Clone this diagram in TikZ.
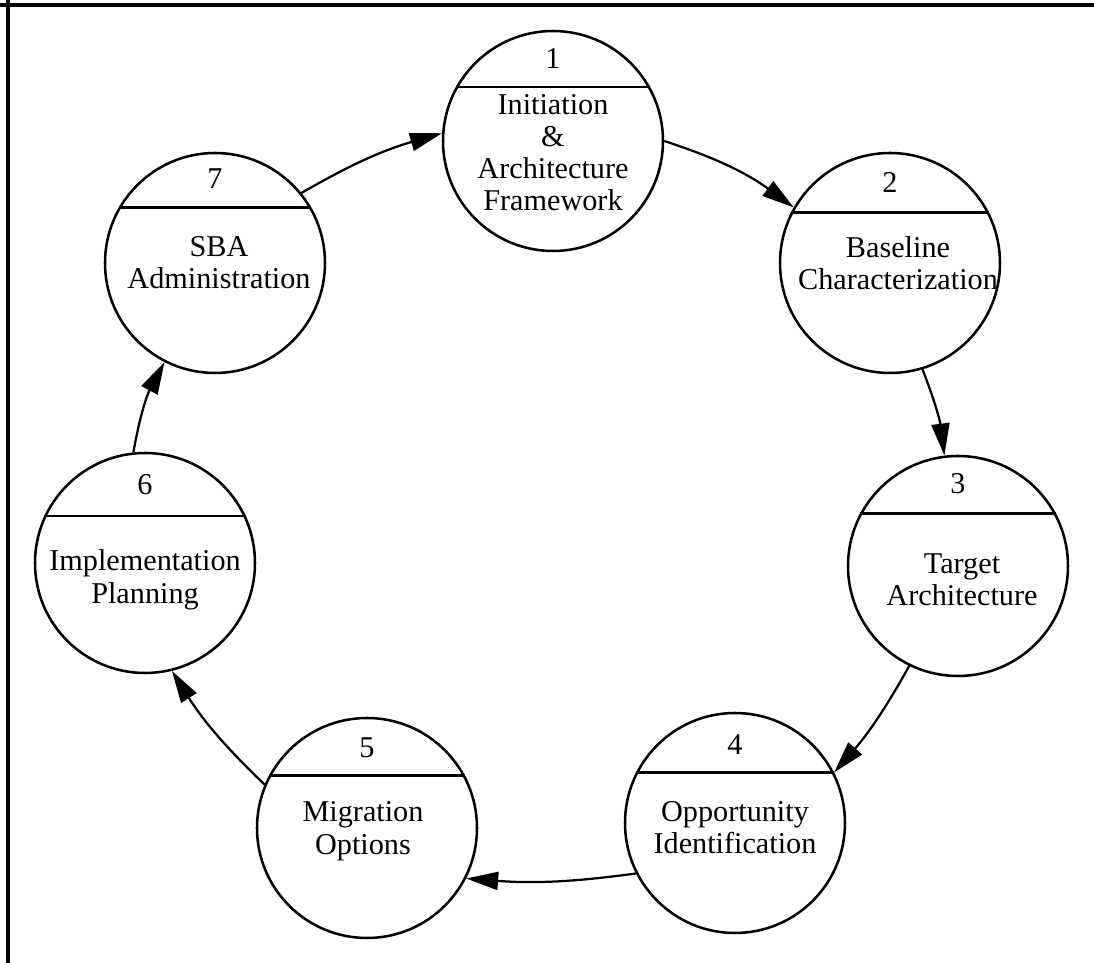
\documentclass[tikz,border=0pt]{standalone}
\usepackage{fontspec}
\setmainfont{Liberation Serif}
\usetikzlibrary{arrows.meta}

\tikzset{
  stage/.style={circle,draw,line width=1.8pt,minimum size=5.5cm,inner sep=0pt},
  stagenum/.style={font=\fontsize{21.5}{22.8}\selectfont,inner sep=0pt},
  stagetext/.style={align=center,font=\fontsize{21.5}{22.8}\selectfont,inner sep=0pt},
  divider/.style={line width=1.8pt},
  flow/.style={line width=1.6pt,-{Triangle[length=8mm,width=4.5mm]}},
}

\begin{document}
\begin{tikzpicture}
  \useasboundingbox (0,0) rectangle (27.35,24.075);
  \draw[line width=2.2pt] (0,23.95) -- (27.35,23.95);  %% top edge of frame
  \draw[line width=2.2pt] (0.2,24.075) -- (0.2,0);      %% left edge of frame

  %% the seven stages, clockwise from the top
  \node[stage] (s1) at (13.825,20.55) {};
  \node[stage] (s2) at (22.25,17.5) {};
  \node[stage] (s3) at (23.95,9.925) {};
  \node[stage] (s4) at (18.375,3.5) {};
  \node[stage] (s5) at (9.175,3.375) {};
  \node[stage] (s6) at (3.625,10.0) {};
  \node[stage] (s7) at (5.375,17.5) {};

  \draw[divider] (s1.29) -- (s1.151);
  \draw[divider] (s2.27) -- (s2.153);
  \draw[divider] (s3.28) -- (s3.152);
  \draw[divider] (s4.27) -- (s4.153);
  \draw[divider] (s5.28) -- (s5.152);
  \draw[divider] (s6.25) -- (s6.155);
  \draw[divider] (s7.30) -- (s7.150);

  \node[stagenum] (n1) at ([yshift=2.05cm]s1.center) {1};
  \node[stagenum] (n2) at ([yshift=2.0cm]s2.center) {2};
  \node[stagenum] (n3) at ([yshift=2.05cm]s3.center) {3};
  \node[stagenum] (n4) at ([yshift=1.95cm]s4.center) {4};
  \node[stagenum] (n5) at ([yshift=2.0cm]s5.center) {5};
  \node[stagenum] (n6) at ([yshift=1.95cm]s6.center) {6};
  \node[stagenum] (n7) at ([yshift=2.1cm]s7.center) {7};

  \node[stagetext] (t1) at ([yshift=-0.29cm]s1.center) {Initiation\\\&\\Architecture\\Framework};
  \node[stagetext] (t2) at ([xshift=0.2cm]s2.center) {Baseline\\Characterization};
  \node[stagetext] (t3) at ([xshift=0.1cm,yshift=-0.35cm]s3.center) {Target\\Architecture};
  \node[stagetext] (t4) at ([yshift=-0.12cm]s4.center) {Opportunity\\Identification};
  \node[stagetext] (t5) at ([xshift=-0.1cm,yshift=-0.08cm]s5.center) {Migration\\Options};
  \node[stagetext] (t6) at ([yshift=-0.42cm]s6.center) {Implementation\\Planning};
  \node[stagetext] (t7) at ([xshift=0.1cm]s7.center) {SBA\\Administration};

  %% flow round the cycle
  \draw[flow] (s7.39) to[bend left=7] (s1.176);
  \draw[flow] (s1.0) to[bend left=9] (s2.150);
  \draw[flow] (s2.-73) to[bend left=7] (s3.97);
  \draw[flow] (s3.-116) to[bend left=6] (s4.27);
  \draw[flow] (s4.-153) to[bend left=6] (s5.-27);
  \draw[flow] (s5.157) to[bend left=7] (s6.-76);
  \draw[flow] (s6.96) to[bend left=9] (s7.-117);
\end{tikzpicture}
\end{document}
